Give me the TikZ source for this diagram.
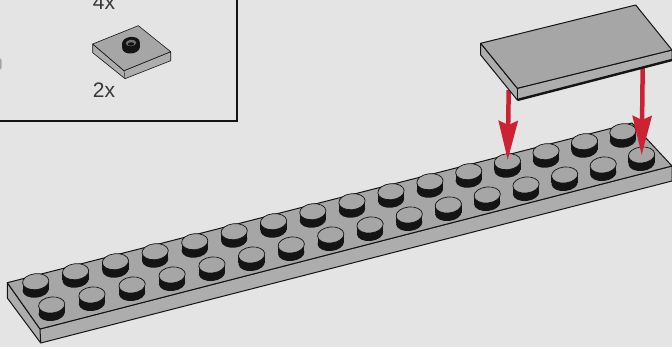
\documentclass[tikz,border=0pt]{standalone}
\usepackage{fontspec}
\setmainfont{Liberation Sans}
\usetikzlibrary{arrows.meta}
\definecolor{brickbg}{HTML}{E4E4E4}
\definecolor{brickgrey}{HTML}{A6A6A6}
\definecolor{bricklight}{HTML}{ADADAD}
\definecolor{brickdark}{HTML}{141414}
\definecolor{brickred}{HTML}{CC2233}
\tikzset{
  brickedge/.style={brickdark,line width=1pt,line join=round},
  qtylabel/.style={font=\fontsize{21}{24}\selectfont,text=brickdark!85,inner sep=0pt,anchor=base west},
  pushline/.style={-{Stealth[length=39pt,width=19pt,inset=4pt]},brickred,line width=4.5pt},
  stud/.pic={
    \fill[brickdark] (-13.2,0) rectangle (13.2,8);
    \fill[brickdark] (0,8) ellipse[x radius=13.2pt,y radius=8pt,rotate=6];
    \fill[brickgrey] (0,0) ellipse[x radius=13.2pt,y radius=8pt,rotate=6];
    \draw[brickdark,line width=0.7pt] (0,0) ellipse[x radius=13.2pt,y radius=8pt,rotate=6];
  }
}
\begin{document}
\begin{tikzpicture}[x=1pt,y=-1pt]
  \useasboundingbox[fill=brickbg] (0,0) rectangle (672,347);
  % inset box, cut off by the page
  \coordinate (boxleft) at (-5,120.7);
  \coordinate (boxcorner) at (236.7,120.7);
  \coordinate (boxtop) at (236.7,-5);
  \draw[brickdark,line width=1.8pt] (boxleft) -- (boxcorner) -- (boxtop);
  \fill[brickgrey] (0,58) -- (1.5,60) -- (1.5,68) -- (0,70) -- cycle;
  \node[qtylabel] (qtyfour) at (92.7,10) {4x};
  \node[qtylabel] (qtytwo) at (92.7,98) {2x};
  % small part in the box
  \draw[brickedge,line width=0.6pt,fill=bricklight] (92.7,44) -- (92.7,52.7) -- (125,78.7) -- (170.7,60.7) -- (170.7,51.7) -- (124,70.7) -- cycle;
  \draw[brickedge,line width=0.6pt,fill=brickgrey] (92.7,44) -- (138.3,25.7) -- (170.7,51.7) -- (124,70.7) -- cycle;
  \draw[brickedge,line width=0.4pt] (124,70.7) -- (125,78.7);
  \fill[brickdark] (122.2,42.7) rectangle (139.8,47.7) (131,47.7) ellipse[x radius=8.8pt,y radius=5.8pt,rotate=6] (131,42.7) ellipse[x radius=8.8pt,y radius=5.8pt,rotate=6];
  \fill[brickgrey!70!black] (131,43) ellipse[x radius=5.2pt,y radius=3.2pt,rotate=6];
  \fill[brickdark] (131,44) ellipse[x radius=3.2pt,y radius=1.7pt,rotate=6];
  % long plate with two rows of studs
  \draw[brickedge,fill=bricklight] (7.3,282.7) -- (7.3,298) -- (40.7,343) -- (672,181) -- (672,166) -- (40,329) -- cycle;
  \draw[brickedge,fill=brickgrey] (7.3,282.7) -- (632,123) -- (672,166) -- (40,329) -- cycle;
  \draw[brickedge] (40,329) -- (40.7,343);
  \foreach \i in {0,...,15}{
    \pic at (35.7+39.98*\i-0.0557*\i*\i,281.7-10*\i) {stud};
    \pic at (51.7+40.33*\i-0.067*\i*\i,305-10*\i) {stud};
  }
  % push arrows
  \coordinate (pushlefta) at (508.7,90);
  \coordinate (pushleftb) at (507.7,160);
  \coordinate (pushrighta) at (642.7,66);
  \coordinate (pushrightb) at (641.7,155);
  \draw[pushline] (pushlefta) -- (pushleftb);
  \draw[pushline] (pushrighta) -- (pushrightb);
  % flat tile above the plate
  \draw[brickedge,fill=bricklight] (480.7,43.3) -- (480.7,55) -- (517.3,100) -- (672,60) -- (672,50) -- (517.3,88.3) -- cycle;
  \draw[brickedge,fill=brickgrey] (480.7,43.3) -- (635.7,5) -- (672,50) -- (517.3,88.3) -- cycle;
  \draw[brickedge] (517.3,88.3) -- (517.3,100);
  \draw[brickdark,line width=2.4pt] (517.3,100) -- (672,60);
\end{tikzpicture}
\end{document}
